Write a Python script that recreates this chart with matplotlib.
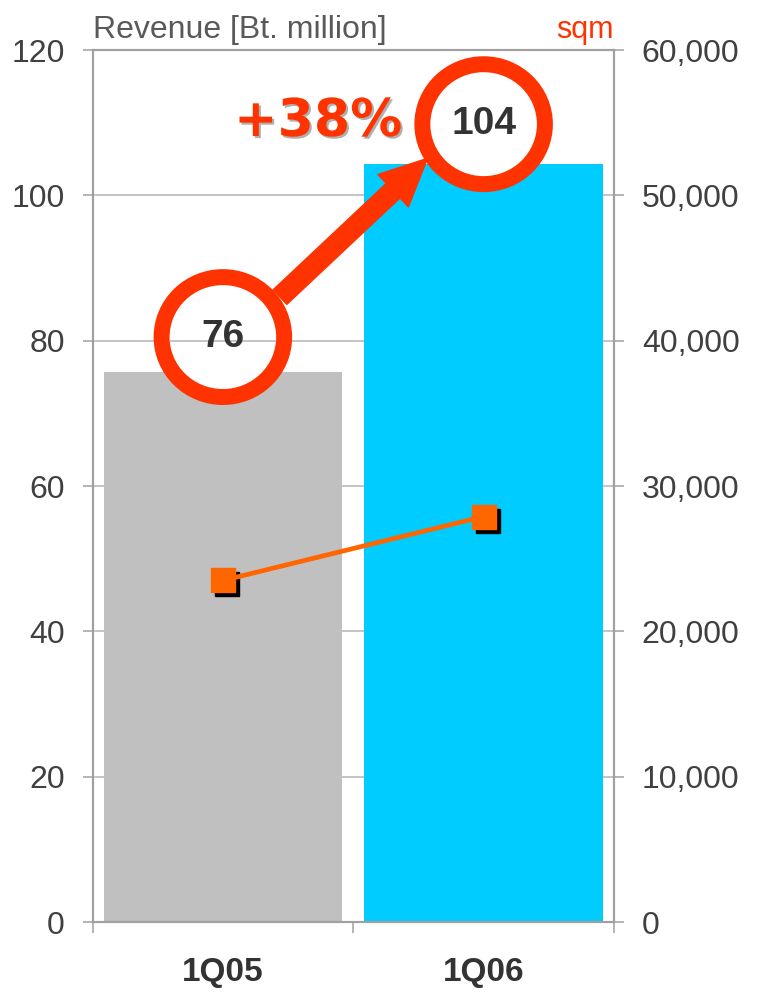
import numpy as np
import matplotlib
matplotlib.use('Agg')
import matplotlib.pyplot as plt
import matplotlib.patheffects as pe
from matplotlib.patches import Ellipse
from matplotlib.ticker import FuncFormatter
from matplotlib.transforms import offset_copy

quarters = ['1Q05', '1Q06']
revenue = [75.7, 104.3]          # Bt. million, left axis
area_sqm = [23500, 27900]        # sqm, right axis
bar_colors = ['#C0C0C0', '#00CCFF']
rev_ticks = [0, 20, 40, 60, 80, 100, 120]
sqm_ticks = [0, 10000, 20000, 30000, 40000, 50000, 60000]

red = '#FF3300'
grid_c = '#B4B4B4'
spine_c = '#A0A0A0'

plt.rcParams['font.family'] = ['Liberation Sans', 'DejaVu Sans']

fig = plt.figure(figsize=(7.57, 9.93), dpi=100)
ax = fig.add_axes([0.1222, 0.0715, 0.6889, 0.8781])
x = np.arange(len(quarters))

ax.bar(x, revenue, width=0.915, color=bar_colors, zorder=2)
ax.set_xlim(-0.5, 1.5)
ax.set_ylim(0, 120)
ax.set_yticks(rev_ticks)
ax.set_axisbelow(True)
ax.yaxis.grid(True, color=grid_c, lw=1.1)
ax.tick_params(axis='y', direction='out', length=7, width=1.1, color=spine_c,
               pad=13, labelsize=23, labelcolor='#404040')
ax.set_xticks(x)
ax.set_xticklabels(quarters, fontweight='bold', fontsize=24, color='#333333')
ax.set_xticks([-0.5, 0.5, 1.5], minor=True)
ax.tick_params(axis='x', which='major', length=0, pad=25)
ax.tick_params(axis='x', which='minor', direction='out', length=8, width=1.1, color=spine_c)

ax2 = ax.twinx()
ax2.set_ylim(0, 60000)
ax2.set_yticks(sqm_ticks)
ax2.yaxis.set_major_formatter(FuncFormatter(lambda v, p: f'{v:,.0f}'))
ax2.tick_params(axis='y', direction='out', length=7, width=1.1, color=spine_c,
                pad=13, labelsize=23, labelcolor='#404040')

for a in (ax, ax2):
    for s in a.spines.values():
        s.set_color(spine_c)
        s.set_linewidth(1.5)

# sqm line with black drop shadow under the markers
shadow_tr = offset_copy(ax2.transData, fig=fig, x=4, y=-4, units='dots')
ax2.plot(x, area_sqm, 's', color='black', ms=17, transform=shadow_tr, zorder=3)
ax2.plot(x, area_sqm, '-s', color='#FF6600', lw=3.4, ms=17, zorder=4)

# circled values
offs = [4.8, 5.5]
circ_w, circ_h = 0.47, 16.5
for i, v in enumerate(revenue):
    cy = v + offs[i]
    e = Ellipse((i, cy), circ_w, circ_h, facecolor='white', edgecolor=red,
                lw=11.5, zorder=5)
    ax.add_patch(e)
    inner = Ellipse((i, cy), circ_w - 0.06, circ_h - 2.2, transform=ax.transData)
    for g in rev_ticks[1:-1]:
        if abs(g - cy) < circ_h / 2:
            gl = ax.axhline(g, color=grid_c, lw=1.1, zorder=5.5)
            gl.set_clip_path(inner)
    ax.text(i, cy, f'{v:.0f}', ha='center', va='center', fontsize=28,
            fontweight='bold', color='#333333', zorder=6)

# growth arrow
ax.annotate('', xy=(1 - 0.215, revenue[1] + 0.8), xytext=(0.219, revenue[0] + 10.3),
            arrowprops=dict(arrowstyle='simple,head_length=1.7,head_width=1.6,tail_width=0.72',
                            color=red, shrinkA=0, shrinkB=0, mutation_scale=20),
            zorder=4.5)

pct = (revenue[1] / revenue[0] - 1) * 100
ax.text(0.365, 110.1, f'+{pct:.0f}%', ha='center', va='center', fontsize=37.5,
        fontweight='bold', color=red, family='DejaVu Sans', zorder=6,
        path_effects=[pe.withSimplePatchShadow(offset=(1.5, -1.5),
                                               shadow_rgbFace='#B0B0B0', alpha=1)])

ax.text(0, 1.0135, 'Revenue [Bt. million]', transform=ax.transAxes, fontsize=23,
        color='#595959', va='baseline', ha='left')
ax.text(1, 1.0135, 'sqm', transform=ax.transAxes, fontsize=22, color=red,
        va='baseline', ha='right')

fig.savefig('out.png', dpi=100)
